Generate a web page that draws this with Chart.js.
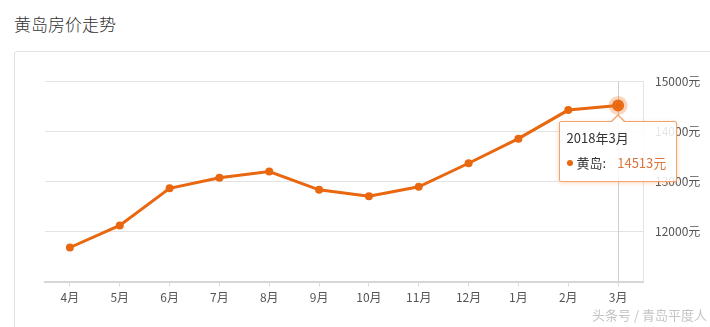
<!DOCTYPE html>
<html>
<head>
<meta charset="utf-8">
<script src="https://cdn.jsdelivr.net/npm/chart.js@4.4.0/dist/chart.umd.min.js"></script>
<style>
    html, body { margin: 0; padding: 0; background: #fff; }
    body { width: 710px; height: 327px; position: relative; overflow: hidden; font-family: "Noto Sans CJK SC", sans-serif; }
    #title { position: absolute; left: 14px; top: 11px; font-size: 17px; color: #333; font-weight: 300; }
    #card { position: absolute; left: 14px; top: 51px; width: 720px; height: 300px; border: 1px solid #e2e2e2; border-radius: 3px; }
    #wrap { position: absolute; left: 0; top: 0; width: 710px; height: 327px; }
    #mark { position: absolute; left: 592px; top: 305px; font-size: 13px; color: #c4c4c4; }
    #tip { position: absolute; background: rgba(255,255,255,0.85); border: 1px solid #f2a46e; border-radius: 2px;
           box-shadow: 0 1px 4px rgba(240,140,70,0.35); padding: 7px 10px 9px 7px; font-size: 13px; color: #333; white-space: nowrap; pointer-events: none; }
    #tip .t { line-height: 18px; margin-bottom: 7px; }
    #tip .b { line-height: 18px; }
    #tip .dot { display: inline-block; width: 6px; height: 6px; border-radius: 50%; background: #e8670f; margin-right: 4px; vertical-align: 2px; }
    #tip .v { color: #d9773f; margin-left: 11px; }
    #tip .caret { position: absolute; top: -8px; left: 50%; margin-left: -8px; width: 0; height: 0;
                  border-left: 8px solid transparent; border-right: 8px solid transparent; border-bottom: 8px solid #f2a46e; }
    #tip .caret2 { position: absolute; top: -6px; left: 50%; margin-left: -7px; width: 0; height: 0;
                   border-left: 7px solid transparent; border-right: 7px solid transparent; border-bottom: 7px solid #fff; }
</style>
</head>
<body>
<div id="title">黄岛房价走势</div>
<div id="card"></div>
<div id="wrap"><canvas id="myChart" width="710" height="327"></canvas></div>
<div id="mark">头条号 / 青岛平度人</div>
<div id="tip" style="display:none"></div>
<script>
const months = ['4月', '5月', '6月', '7月', '8月', '9月', '10月', '11月', '12月', '1月', '2月', '3月'];
const fullMonths = ['2017年4月', '2017年5月', '2017年6月', '2017年7月', '2017年8月', '2017年9月',
    '2017年10月', '2017年11月', '2017年12月', '2018年1月', '2018年2月', '2018年3月'];
const prices = [11680, 12120, 12860, 13070, 13195, 12830, 12700, 12890, 13360, 13850, 14420, 14513];
const seriesName = '黄岛';
const yTicks = [12000, 13000, 14000, 15000];

const orange = '#e8670f';

// vertical line under the active point
const crossLine = {
    id: 'crossLine',
    beforeDatasetsDraw(chart) {
        let active = chart.tooltip.getActiveElements();
        if (!active.length) return;
        let x = active[0].element.x;
        let ctx = chart.ctx;
        ctx.save();
        ctx.strokeStyle = '#cfcfcf';
        ctx.lineWidth = 1;
        ctx.beginPath();
        ctx.moveTo(Math.round(x) + 0.5, chart.chartArea.top);
        ctx.lineTo(Math.round(x) + 0.5, chart.chartArea.bottom);
        ctx.stroke();
        ctx.restore();
    }
};

function htmlTip(context) {
    let tip = context.tooltip;
    let el = document.getElementById('tip');
    if (tip.opacity === 0) { el.style.display = 'none'; return; }
    let i = tip.dataPoints[0].dataIndex;
    el.innerHTML = `
        <div class="caret"></div><div class="caret2"></div>
        <div class="t">${fullMonths[i]}</div>
        <div class="b"><span class="dot"></span>${seriesName}:<span class="v">${prices[i]}元</span></div>`;
    el.style.display = 'block';
    let w = el.offsetWidth;
    el.style.left = (tip.caretX - w / 2) + 'px';
    el.style.top = (tip.caretY + 16) + 'px';
}

Chart.defaults.font.family = '"Noto Sans CJK SC", sans-serif';
Chart.defaults.color = '#555';

let ctx = document.getElementById('myChart').getContext('2d');
let myChart = new Chart(ctx, {
    type: 'line',
    data: {
        labels: months,
        datasets: [{
            label: seriesName,
            data: prices,
            borderColor: orange,
            backgroundColor: orange,
            borderWidth: 3,
            pointRadius: 4,
            pointBorderWidth: 0,
            pointBackgroundColor: orange,
            pointHoverRadius: 6,
            pointHoverBackgroundColor: orange,
            pointHoverBorderColor: 'rgba(240,120,40,0.3)',
            pointHoverBorderWidth: 7,
            tension: 0
        }]
    },
    options: {
        responsive: false,
        animation: false,
        events: [],
        layout: {
            padding: { left: 45, top: 81, right: 10, bottom: 18 }
        },
        plugins: {
            legend: { display: false },
            tooltip: {
                enabled: false,
                external: htmlTip
            }
        },
        scales: {
            x: {
                offset: true,
                grid: { drawOnChartArea: false, drawTicks: true, tickLength: 5, color: '#dcdcdc' },
                border: { display: true, color: '#d6d6d6', width: 2 },
                ticks: { padding: 4, font: { size: 12 }, color: '#555', maxRotation: 0 }
            },
            y: {
                position: 'right',
                min: 11000,
                max: 15000,
                afterBuildTicks: function (scale) {
                    scale.ticks = [11000].concat(yTicks).map(v => ({ value: v }));
                },
                afterFit: function (scale) { scale.width = 57; },
                grid: { color: '#e3e3e3', drawTicks: false },
                border: { display: true, color: '#e3e3e3' },
                ticks: {
                    padding: 12,
                    font: { size: 12 },
                    color: '#555',
                    callback: function (v) { return v === 11000 ? '' : v + '元'; }
                }
            }
        }
    },
    plugins: [crossLine]
});

let last = prices.length - 1;
let pt = myChart.getDatasetMeta(0).data[last];
myChart.setActiveElements([{ datasetIndex: 0, index: last }]);
myChart.tooltip.setActiveElements([{ datasetIndex: 0, index: last }], { x: pt.x, y: pt.y });
myChart.update();
</script>
</body>
</html>
